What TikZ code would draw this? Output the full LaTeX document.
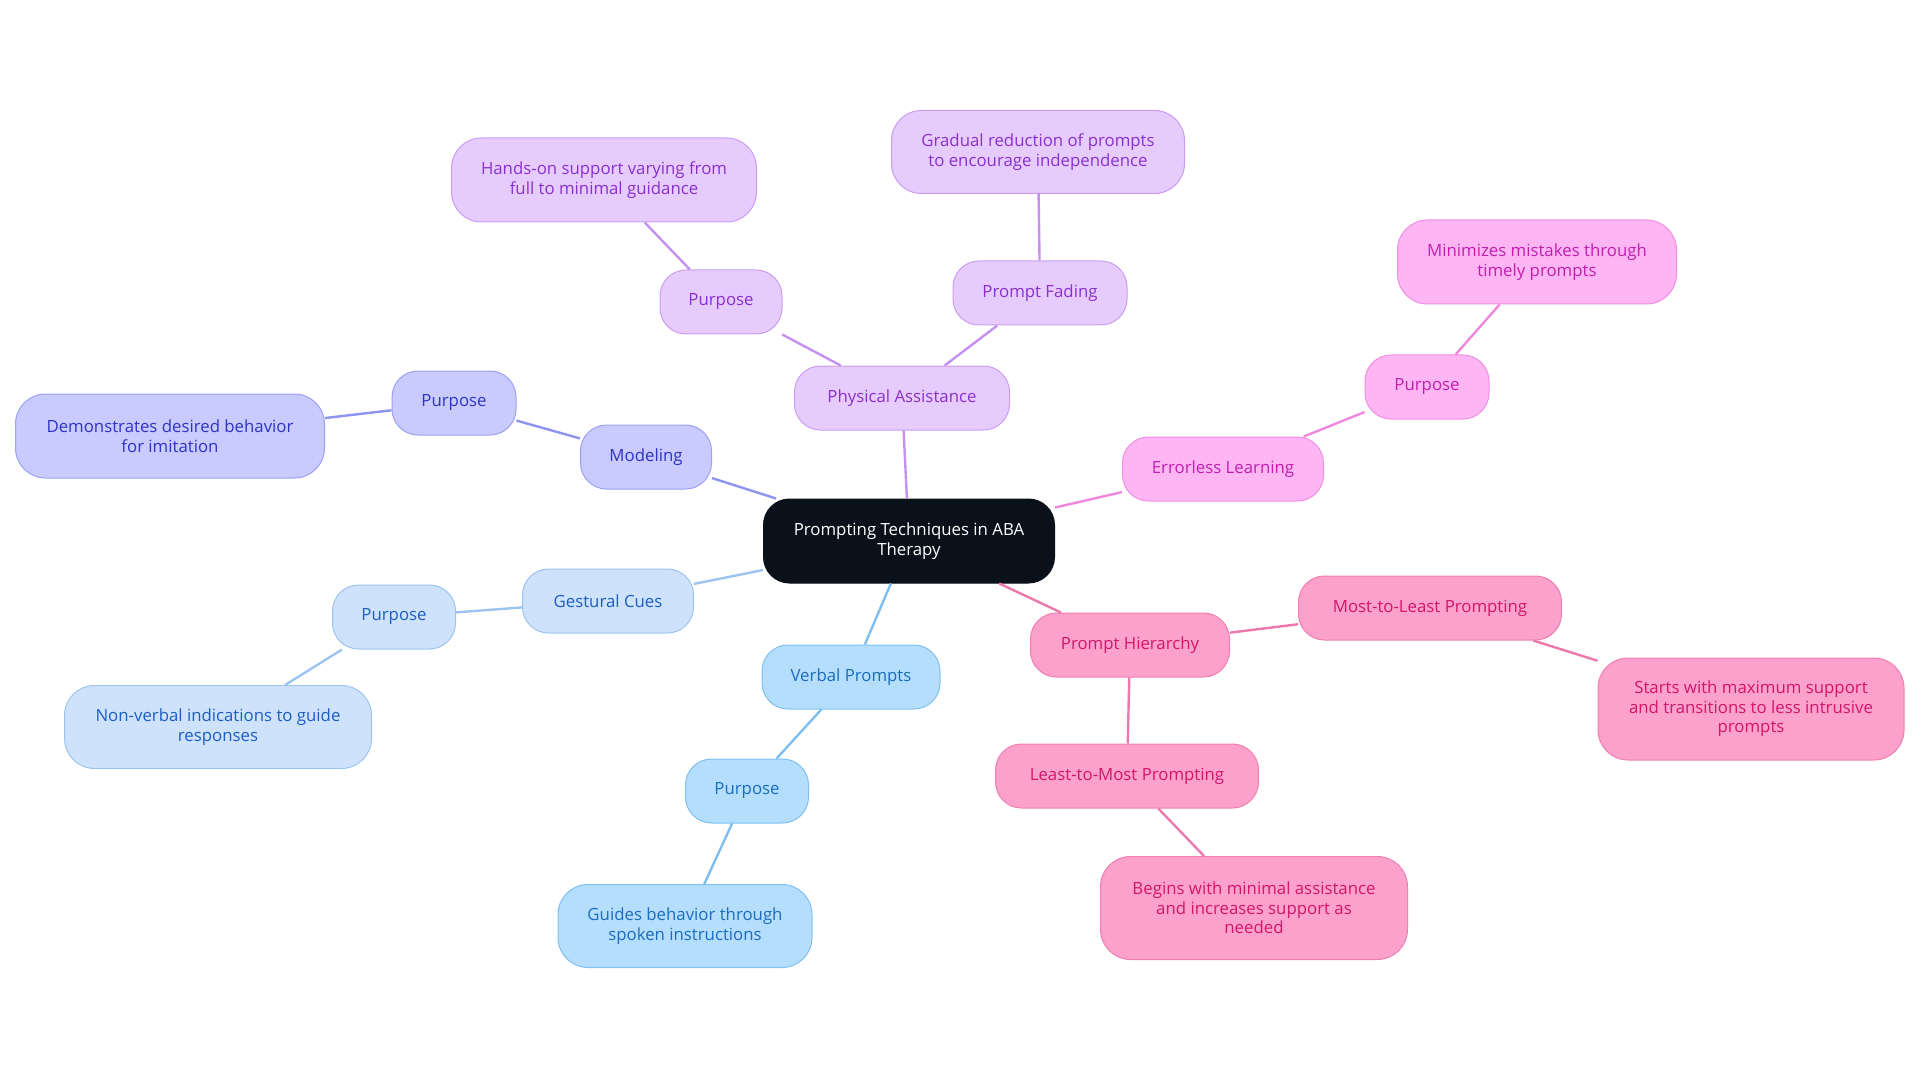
\documentclass[tikz,border=0pt]{standalone}
\usepackage{fontspec}
\setmainfont{Open Sans}
\definecolor{cfill}{HTML}{0B111A}
\definecolor{mfill}{HTML}{C9CAFD}\definecolor{mdraw}{HTML}{9DA1F4}\definecolor{mtext}{HTML}{2F33C6}\definecolor{medge}{HTML}{8E94F1}
\definecolor{pfill}{HTML}{E6CCFD}\definecolor{pdraw}{HTML}{CB9CF1}\definecolor{ptext}{HTML}{8B2FD0}\definecolor{pedge}{HTML}{C690F0}
\definecolor{efill}{HTML}{FDB5F3}\definecolor{edraw}{HTML}{F08FE0}\definecolor{etext}{HTML}{C21FB0}\definecolor{eedge}{HTML}{EF88DC}
\definecolor{hfill}{HTML}{FCA1CB}\definecolor{hdraw}{HTML}{F07FB2}\definecolor{htext}{HTML}{D4156C}\definecolor{hedge}{HTML}{EC78AC}
\definecolor{vfill}{HTML}{B5DEFD}\definecolor{vdraw}{HTML}{7FC0F1}\definecolor{vtext}{HTML}{1A6DBF}\definecolor{vedge}{HTML}{7FBEF0}
\definecolor{gfill}{HTML}{CEE2FB}\definecolor{gdraw}{HTML}{9DC4F0}\definecolor{gtext}{HTML}{1D5EC4}\definecolor{gedge}{HTML}{9CC4F0}
\tikzset{
  box/.style={rounded corners=26pt, line width=1pt, align=center, inner sep=0pt,
    font=\fontsize{16.8}{19.6}\selectfont},
  mbox/.style={box, fill=mfill, draw=mdraw, text=mtext},
  pbox/.style={box, fill=pfill, draw=pdraw, text=ptext},
  ebox/.style={box, fill=efill, draw=edraw, text=etext},
  hbox/.style={box, fill=hfill, draw=hdraw, text=htext},
  vbox/.style={box, fill=vfill, draw=vdraw, text=vtext},
  gbox/.style={box, fill=gfill, draw=gdraw, text=gtext},
  link/.style={line width=2.4pt},
}
\begin{document}
\begin{tikzpicture}[x=1pt,y=-1pt]
\useasboundingbox (0,0) rectangle (1920,1083);
% nodes
\node[box, fill=cfill, draw=cfill, text=white, minimum width=291pt, minimum height=84pt] (c) at (909,541) {Prompting Techniques in ABA\\Therapy};

\node[mbox, minimum width=131pt, minimum height=64pt] (mod) at (646,457) {Modeling};
\node[mbox, minimum width=124pt, minimum height=64pt] (modp) at (454,403) {Purpose};
\node[mbox, minimum width=309pt, minimum height=84pt, rounded corners=30pt] (modd) at (170,436) {Demonstrates desired behavior\\for imitation};

\node[pbox, minimum width=215pt, minimum height=64pt] (phy) at (902,398) {Physical Assistance};
\node[pbox, minimum width=122pt, minimum height=64pt] (phyp) at (721,302) {Purpose};
\node[pbox, minimum width=305pt, minimum height=84pt, rounded corners=30pt] (phyd) at (604,180) {Hands-on support varying from\\full to minimal guidance};
\node[pbox, minimum width=174pt, minimum height=64pt] (fad) at (1040,293) {Prompt Fading};
\node[pbox, minimum width=293pt, minimum height=83pt, rounded corners=30pt] (fadd) at (1038,152) {Gradual reduction of prompts\\to encourage independence};

\node[ebox, minimum width=201pt, minimum height=64pt] (err) at (1223,469) {Errorless Learning};
\node[ebox, minimum width=124pt, minimum height=64pt] (errp) at (1427,387) {Purpose};
\node[ebox, minimum width=279pt, minimum height=84pt, rounded corners=30pt] (errd) at (1537,262) {Minimizes mistakes through\\timely prompts};

\node[hbox, minimum width=199pt, minimum height=64pt] (hie) at (1130,645) {Prompt Hierarchy};
\node[hbox, minimum width=263pt, minimum height=64pt] (mtl) at (1430,608) {Most-to-Least Prompting};
\node[hbox, minimum width=306pt, minimum height=102pt, rounded corners=30pt] (mtld) at (1751,709) {Starts with maximum support\\and transitions to less intrusive\\prompts};
\node[hbox, minimum width=263pt, minimum height=64pt] (ltm) at (1127,776) {Least-to-Most Prompting};
\node[hbox, minimum width=307pt, minimum height=103pt, rounded corners=30pt] (ltmd) at (1254,908) {Begins with minimal assistance\\and increases support as\\needed};

\node[vbox, minimum width=178pt, minimum height=64pt] (ver) at (851,677) {Verbal Prompts};
\node[vbox, minimum width=123pt, minimum height=64pt] (verp) at (747,791) {Purpose};
\node[vbox, minimum width=254pt, minimum height=83pt, rounded corners=30pt] (verd) at (685,926) {Guides behavior through\\spoken instructions};

\node[gbox, minimum width=171pt, minimum height=64pt] (ges) at (608,601) {Gestural Cues};
\node[gbox, minimum width=123pt, minimum height=64pt] (gesp) at (394,617) {Purpose};
\node[gbox, minimum width=307pt, minimum height=83pt, rounded corners=30pt] (gesd) at (218,727) {Non-verbal indications to guide\\responses};

% links
\draw[link, medge] (c) -- (mod);
\draw[link, medge] (mod) -- (modp);
\draw[link, medge] (modp) -- (modd);
\draw[link, pedge] (c) -- (phy);
\draw[link, pedge] (phy) -- (phyp);
\draw[link, pedge] (phyp) -- (phyd);
\draw[link, pedge] (phy) -- (fad);
\draw[link, pedge] (fad) -- (fadd);
\draw[link, eedge] (c) -- (err);
\draw[link, eedge] (err) -- (errp);
\draw[link, eedge] (errp) -- (errd);
\draw[link, hedge] (c) -- (hie);
\draw[link, hedge] (hie) -- (mtl);
\draw[link, hedge] (mtl) -- (mtld);
\draw[link, hedge] (hie) -- (ltm);
\draw[link, hedge] (ltm) -- (ltmd);
\draw[link, vedge] (c) -- (ver);
\draw[link, vedge] (ver) -- (verp);
\draw[link, vedge] (verp) -- (verd);
\draw[link, gedge] (c) -- (ges);
\draw[link, gedge] (ges) -- (gesp);
\draw[link, gedge] (gesp) -- (gesd);
\end{tikzpicture}
\end{document}
